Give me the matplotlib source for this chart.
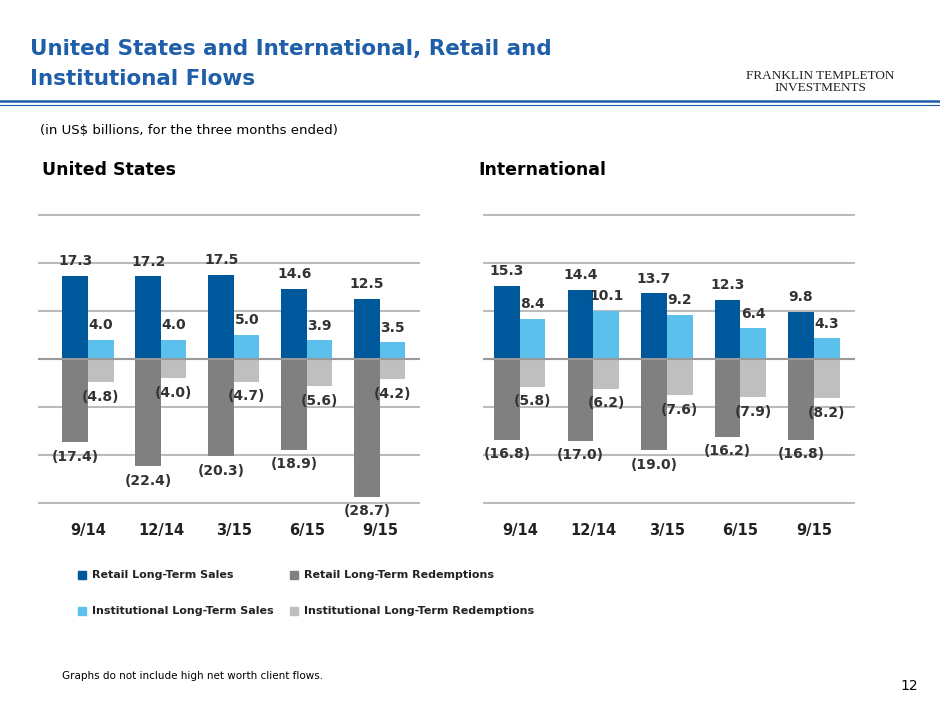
import matplotlib.pyplot as plt
import numpy as np

W, H = 940, 705

quarters = ['9/14', '12/14', '3/15', '6/15', '9/15']

us_retail_sales = [17.3, 17.2, 17.5, 14.6, 12.5]
us_inst_sales = [4.0, 4.0, 5.0, 3.9, 3.5]
us_retail_red = [-17.4, -22.4, -20.3, -18.9, -28.7]
us_inst_red = [-4.8, -4.0, -4.7, -5.6, -4.2]

intl_retail_sales = [15.3, 14.4, 13.7, 12.3, 9.8]
intl_inst_sales = [8.4, 10.1, 9.2, 6.4, 4.3]
intl_retail_red = [-16.8, -17.0, -19.0, -16.2, -16.8]
intl_inst_red = [-5.8, -6.2, -7.6, -7.9, -8.2]

DARK = '#00589C'
LIGHT = '#5BC0EB'
GREY = '#808080'
LGREY = '#BFBFBF'
TITLE = '#1F5FAA'

fig = plt.figure(figsize=(9.4, 7.05), dpi=100)


def px(x, y, w, h):
    return [x / W, 1 - (y + h) / H, w / W, h / H]


def fmt(v):
    return f'({abs(v):.1f})' if v < 0 else f'{v:.1f}'


def draw(rect, xlim, rs, isales, rr, ir):
    ax = fig.add_axes(rect)
    x = np.arange(len(quarters))
    bw = 0.35
    ax.bar(x - bw / 2, rs, bw, color=DARK, zorder=2)
    ax.bar(x + bw / 2, isales, bw, color=LIGHT, zorder=2)
    ax.bar(x - bw / 2, rr, bw, color=GREY, zorder=2)
    ax.bar(x + bw / 2, ir, bw, color=LGREY, zorder=2)
    kw = dict(ha='center', fontsize=10, fontweight='bold', color='#333333')
    for i in x:
        ax.text(i - bw / 2, rs[i] + 1.6, fmt(rs[i]), va='bottom', **kw)
        ax.text(i + bw / 2, isales[i] + 1.6, fmt(isales[i]), va='bottom', **kw)
        ax.text(i - bw / 2, rr[i] - 1.6, fmt(rr[i]), va='top', **kw)
        ax.text(i + bw / 2, ir[i] - 1.6, fmt(ir[i]), va='top', **kw)
    ax.set_ylim(-31.9, 32.1)
    ax.set_xlim(*xlim)
    for g in range(-30, 31, 10):
        ax.axhline(g, color='#BBBBBB', lw=1.5, zorder=1)
    ax.axhline(0, color='#999999', lw=1.5, zorder=3)
    ax.set_xticks(x)
    ax.set_xticklabels(quarters, fontsize=10.5, fontweight='bold', color='#222222')
    ax.tick_params(length=0, pad=8)
    ax.set_yticks([])
    for s in ax.spines.values():
        s.set_visible(False)
    return ax


draw(px(38, 205, 382, 307), (-0.685, 4.55), us_retail_sales, us_inst_sales, us_retail_red, us_inst_red)
draw(px(483, 205, 372, 307), (-0.5, 4.56), intl_retail_sales, intl_inst_sales, intl_retail_red, intl_inst_red)

fig.text(30 / W, 1 - 64 / H, 'United States and International, Retail and\nInstitutional Flows',
         fontsize=15.5, fontweight='bold', color=TITLE, va='center', linespacing=1.6)
fig.add_artist(plt.Line2D([0, 1], [1 - 101 / H] * 2, color=TITLE, lw=1.8))
fig.add_artist(plt.Line2D([0, 1], [1 - 105 / H] * 2, color=TITLE, lw=0.8))
fig.text(820 / W, 1 - 82 / H, 'FRANKLIN TEMPLETON\nINVESTMENTS', fontsize=9.5,
         family='Liberation Serif', ha='center', va='center', color='#222222', linespacing=1.0)
fig.text(40 / W, 1 - 131 / H, '(in US$ billions, for the three months ended)', fontsize=9.5,
         va='center')
fig.text(42 / W, 1 - 170 / H, 'United States', fontsize=12.5, fontweight='bold', va='center')
fig.text(478 / W, 1 - 170 / H, 'International', fontsize=12.5, fontweight='bold', va='center')

legend = [(DARK, 'Retail Long-Term Sales', 78, 575), (GREY, 'Retail Long-Term Redemptions', 290, 575),
          (LIGHT, 'Institutional Long-Term Sales', 78, 611), (LGREY, 'Institutional Long-Term Redemptions', 290, 611)]
for c, lab, lx, ly in legend:
    fig.add_artist(plt.Rectangle((lx / W, 1 - (ly + 4) / H), 8 / W, 8 / H, color=c,
                                 transform=fig.transFigure))
    fig.text((lx + 14) / W, 1 - ly / H, lab, fontsize=8, fontweight='bold', va='center',
             color='#222222')

fig.text(62 / W, 1 - 676 / H, 'Graphs do not include high net worth client flows.', fontsize=7.5,
         va='center')
fig.text(918 / W, 1 - 686 / H, '12', fontsize=10, ha='right', va='center')

fig.savefig('out.png', dpi=100)
